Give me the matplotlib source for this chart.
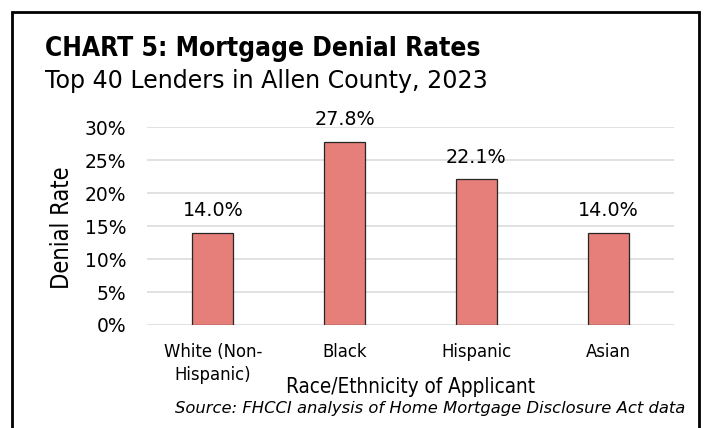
import matplotlib
matplotlib.use("Agg")
import matplotlib.pyplot as plt
from matplotlib.patches import Rectangle
from matplotlib.ticker import PercentFormatter

# Denial rates by race/ethnicity of applicant (percent)
categories = ["White (Non-\nHispanic)", "Black", "Hispanic", "Asian"]
denial_rates = [14.0, 27.8, 22.1, 14.0]
y_ticks = [0, 5, 10, 15, 20, 25, 30]

title = "CHART 5: Mortgage Denial Rates"
subtitle = "Top 40 Lenders in Allen County, 2023"
x_label = "Race/Ethnicity of Applicant"
y_label = "Denial Rate"
source = "Source: FHCCI analysis of Home Mortgage Disclosure Act data"

plt.rcParams["font.family"] = ["DejaVu Sans"]

W, H = 705, 428
fig = plt.figure(figsize=(W / 100, H / 100), dpi=100)
fig.patch.set_facecolor("white")

# plot area in pixel terms
ax_left, ax_right, ax_bottom, ax_top = 147, 674, 325, 127.3
ax = fig.add_axes([ax_left / W, 1 - ax_bottom / H,
                   (ax_right - ax_left) / W, (ax_bottom - ax_top) / H])

x = range(len(categories))
bars = ax.bar(x, denial_rates, width=0.31, color="#E67F79",
              edgecolor="#262626", linewidth=0.9, zorder=3)

for b, v in zip(bars, denial_rates):
    ax.annotate(f"{v:.1f}%", (b.get_x() + b.get_width() / 2, v),
                xytext=(0, 12), textcoords="offset points",
                ha="center", va="baseline", fontsize=13.8, color="black")

ax.set_xlim(-0.5, len(categories) - 0.5)
ax.set_ylim(0, 30)
ax.set_yticks(y_ticks)
ax.yaxis.set_major_formatter(PercentFormatter(decimals=0))
ax.set_xticks(list(x))
ax.set_xticklabels(categories, fontsize=11.9, linespacing=1.35)
ax.tick_params(axis="y", length=0, pad=15, labelsize=13.5)
ax.tick_params(axis="x", length=0, pad=13)
ax.grid(axis="y", color="#D9D9D9", linewidth=1.1, zorder=0)
for s in ax.spines.values():
    s.set_visible(False)

fig.text(45 / W, 1 - 56 / H, title, fontsize=18.9, fontweight="bold",
         fontstretch="condensed", ha="left", va="baseline")
fig.text(45 / W, 1 - 88 / H, subtitle, fontsize=17.1,
         ha="left", va="baseline")
fig.text(62 / W, 1 - 227.5 / H, y_label, fontsize=17, rotation=90,
         fontstretch="condensed", ha="center", va="center")
fig.text(410.5 / W, 1 - 392.7 / H, x_label, fontsize=14.9,
         fontstretch="condensed", ha="center", va="baseline")
fig.text(685 / W, 1 - 413.3 / H, source, fontsize=11.8, style="italic",
         ha="right", va="baseline")

# frame around the whole chart
fig.patches.append(Rectangle((12 / W, -0.1), (699 - 12) / W, 1.1 - 12 / H,
                             transform=fig.transFigure, fill=False,
                             edgecolor="black", linewidth=2.0))

fig.savefig("out.png", dpi=100, facecolor="white")
